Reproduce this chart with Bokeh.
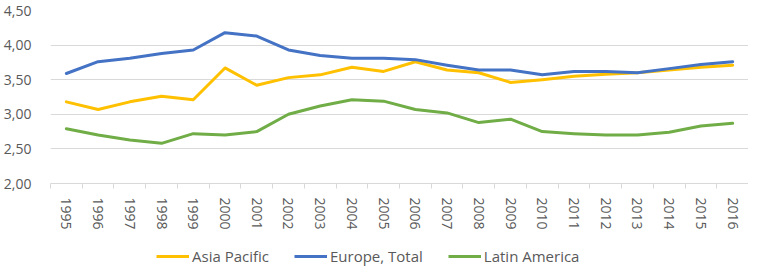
import math
from bokeh.plotting import figure
from bokeh.layouts import column
from bokeh.models import (ColumnDataSource, FixedTicker, Legend, LegendItem, Range1d,
                          CustomJSTickFormatter)
from bokeh.embed import file_html
from bokeh.resources import INLINE

years = [str(y) for y in range(1995, 2017)]
asia_pacific = [3.18, 3.07, 3.18, 3.26, 3.21, 3.67, 3.42, 3.53, 3.57, 3.68, 3.62, 3.76,
                3.64, 3.60, 3.46, 3.50, 3.55, 3.58, 3.60, 3.64, 3.68, 3.71]
europe_total = [3.59, 3.76, 3.81, 3.88, 3.93, 4.18, 4.13, 3.93, 3.85, 3.81, 3.81, 3.79,
                3.71, 3.64, 3.64, 3.57, 3.62, 3.62, 3.60, 3.66, 3.72, 3.76]
latin_america = [2.79, 2.70, 2.63, 2.58, 2.72, 2.70, 2.75, 3.00, 3.12, 3.21, 3.19, 3.07,
                 3.02, 2.88, 2.93, 2.75, 2.72, 2.70, 2.70, 2.74, 2.83, 2.87]
y_ticks = [2.0, 2.5, 3.0, 3.5, 4.0, 4.5]
y_tick_labels = ["2,00", "2,50", "3,00", "3,50", "4,00", "4,50"]

series_names = ["Asia Pacific", "Europe, Total", "Latin America"]
series_colors = ["#FFC000", "#4472C4", "#70AD47"]
series_cols = ["asia", "europe", "latam"]

FONT = "Open Sans"
TXT = "#595959"
GRID = "#d9d9d9"

idx = list(range(len(years)))
src = ColumnDataSource(dict(x=idx, asia=asia_pacific, europe=europe_total, latam=latin_america))

p = figure(width=748, height=232, output_backend="svg", toolbar_location=None,
           x_range=Range1d(-0.5, len(years) - 0.5), y_range=Range1d(2.0, 4.5),
           min_border_left=41, min_border_right=0, min_border_top=10, min_border_bottom=46)
p.outline_line_color = None
p.background_fill_color = "white"
p.border_fill_color = "white"

for col, color in zip(series_cols, series_colors):
    p.line("x", col, source=src, line_color=color, line_width=3,
           line_join="round", line_cap="round")

# x axis
xa = p.xaxis[0]
xa.ticker = FixedTicker(ticks=idx, minor_ticks=[i - 0.5 for i in range(len(years) + 1)])
xa.major_label_overrides = {i: y for i, y in zip(idx, years)}
xa.major_label_orientation = -math.pi / 2
xa.major_tick_out = 0
xa.major_tick_in = 0
xa.minor_tick_out = 5
xa.minor_tick_in = 0
xa.minor_tick_line_color = GRID
xa.axis_line_color = GRID
xa.major_label_standoff = 9
xa.major_label_text_font = FONT
xa.major_label_text_font_size = "14px"
xa.major_label_text_color = TXT

# y axis
ya = p.yaxis[0]
ya.ticker = FixedTicker(ticks=y_ticks)
ya.formatter = CustomJSTickFormatter(args=dict(vals=y_ticks, labels=y_tick_labels), code="""
    let best = 0;
    for (let i = 0; i < vals.length; i++) {
        if (Math.abs(vals[i] - tick) < Math.abs(vals[best] - tick)) best = i;
    }
    return labels[best];
""")
ya.axis_line_color = None
ya.major_tick_line_color = None
ya.minor_tick_line_color = None
ya.major_label_standoff = 13
ya.major_label_text_font = FONT
ya.major_label_text_font_size = "14px"
ya.major_label_text_color = TXT

p.xgrid.grid_line_color = None
p.ygrid.grid_line_color = GRID
p.ygrid.grid_line_width = 1

# legend strip below the chart (its lines use the same data, kept out of view)
lg = figure(width=748, height=34, output_backend="svg", toolbar_location=None,
            x_range=Range1d(-100, -99), y_range=Range1d(-100, -99),
            x_axis_location=None, y_axis_location=None,
            min_border_left=41, min_border_right=0, min_border_top=0, min_border_bottom=0)
lg.outline_line_color = None
lg.xgrid.grid_line_color = None
lg.ygrid.grid_line_color = None
items = []
for name, col, color in zip(series_names, series_cols, series_colors):
    r = lg.line("x", col, source=src, line_color=color, line_width=3, line_cap="butt")
    items.append(LegendItem(label=name, renderers=[r]))
legend = Legend(items=items, orientation="horizontal", location=(106, 0),
                border_line_color=None, background_fill_alpha=0,
                glyph_width=33, glyph_height=14, label_standoff=3, spacing=25,
                label_text_font=FONT, label_text_font_size="15px", label_text_color=TXT,
                padding=2, margin=0)
lg.add_layout(legend, "center")

layout = column(p, lg, spacing=0)
open("out.html", "w").write(file_html(layout, INLINE))
